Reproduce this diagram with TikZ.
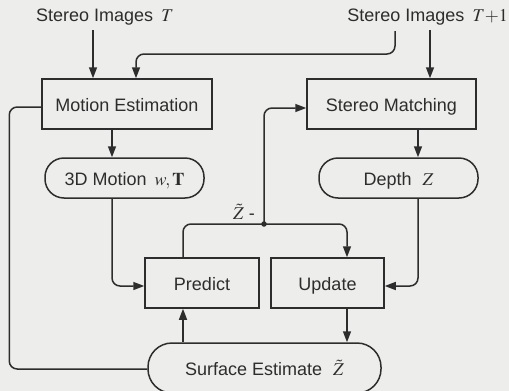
\documentclass[tikz,border=0pt]{standalone}
\usepackage{mathptmx}
\usepackage{fontspec}
\setmainfont{Liberation Sans}
\usetikzlibrary{arrows.meta}
\definecolor{bg}{RGB}{237,237,235}
\definecolor{lc}{RGB}{45,45,45}
\begin{document}
\begin{tikzpicture}[x=1pt,y=-1pt,
  font=\fontsize{18}{21}\selectfont, text=lc,
  box/.style={draw=lc, line width=1.5pt, minimum height=50pt, inner sep=0pt, text height=16.5pt, text depth=1.5pt},
  pill/.style={box, rounded corners=19pt, minimum height=40pt},
  arr/.style={draw=lc, line width=1.5pt, -{Triangle[length=11pt,width=8pt]}},
  ln/.style={draw=lc, line width=1.5pt},
  rc/.style={rounded corners=8pt},
  lbl/.style={inner sep=0pt}]
\fill[bg] (0,0) rectangle (509,391);
\useasboundingbox (0,0) rectangle (509,391);
\clip (0,0) rectangle (509,391);

\node[lbl, anchor=west] (sit) at (36,17) {Stereo Images \,$T$};
\node[lbl, anchor=east] (sit1) at (508,17) {Stereo Images \,$T{+}1$};

\node[box, minimum width=170pt] (me) at (127,104) {Motion Estimation};
\node[box, minimum width=169pt] (sm) at (391.5,104) {Stereo Matching};
\node[pill, minimum width=159pt] (mo) at (124.5,178) {3D Motion \,$w,\mathbf{T}$};
\node[pill, minimum width=159pt] (dz) at (398.5,178) {Depth \,\,$Z$};
\node[box, minimum width=114pt] (pr) at (202,283) {Predict};
\node[box, minimum width=113pt] (up) at (327.5,283) {Update};
\node[box, rounded corners=24pt, minimum width=233pt] (se) at (264.5,368) {Surface Estimate \,\,$\tilde{Z}$};

\node[circle, fill=lc, inner sep=0pt, minimum size=5.5pt] (dot) at (264,224) {};
\node[lbl] (zl) at (244,212) {$\tilde{Z}$ -};

% named ends on the box edges
\coordinate (meA) at ([xshift=-34pt]me.north);
\coordinate (meB) at ([xshift=9pt]me.north);
\coordinate (smA) at ([xshift=38.5pt]sm.north);
\coordinate (sitB) at (395,31);

% inputs
\draw[arr] (meA |- sit.south) ++(0,-5pt) -- (meA);
\draw[arr] (smA |- sit1.south) ++(0,-5pt) -- (smA);
\draw[arr, rc] (sitB) -- ++(0,23) -| (meB);

% down arrows
\draw[arr] ([xshift=-15pt]me.south) -- ([xshift=-12.5pt]mo.north);
\draw[arr] ([xshift=26.5pt]sm.south) -- ([xshift=19.5pt]dz.north);

% into predict / update
\draw[arr, rc] ([xshift=-12.5pt]mo.south) |- ([yshift=-3pt]pr.west);
\draw[arr, rc] ([xshift=19.5pt]dz.south) |- ([yshift=-3pt]up.east);

% Z tilde minus branch
\draw[arr, rc] (dot.center) |- ([yshift=-4pt]sm.west);
\draw[ln, rc] (dot.center) -| ([xshift=-19pt]pr.north);
\draw[arr, rc] (dot.center) -| ([xshift=19.5pt]up.north);

% surface estimate links
\draw[arr] ([xshift=-81.5pt]se.north) -- ([xshift=-19pt]pr.south);
\draw[arr] ([xshift=19.5pt]up.south) -- ([xshift=82.5pt]se.north);
\draw[ln, rc] ([yshift=-3pt]me.west) -- ++(-32,0) |- ([yshift=-1pt]se.west);
\end{tikzpicture}
\end{document}
